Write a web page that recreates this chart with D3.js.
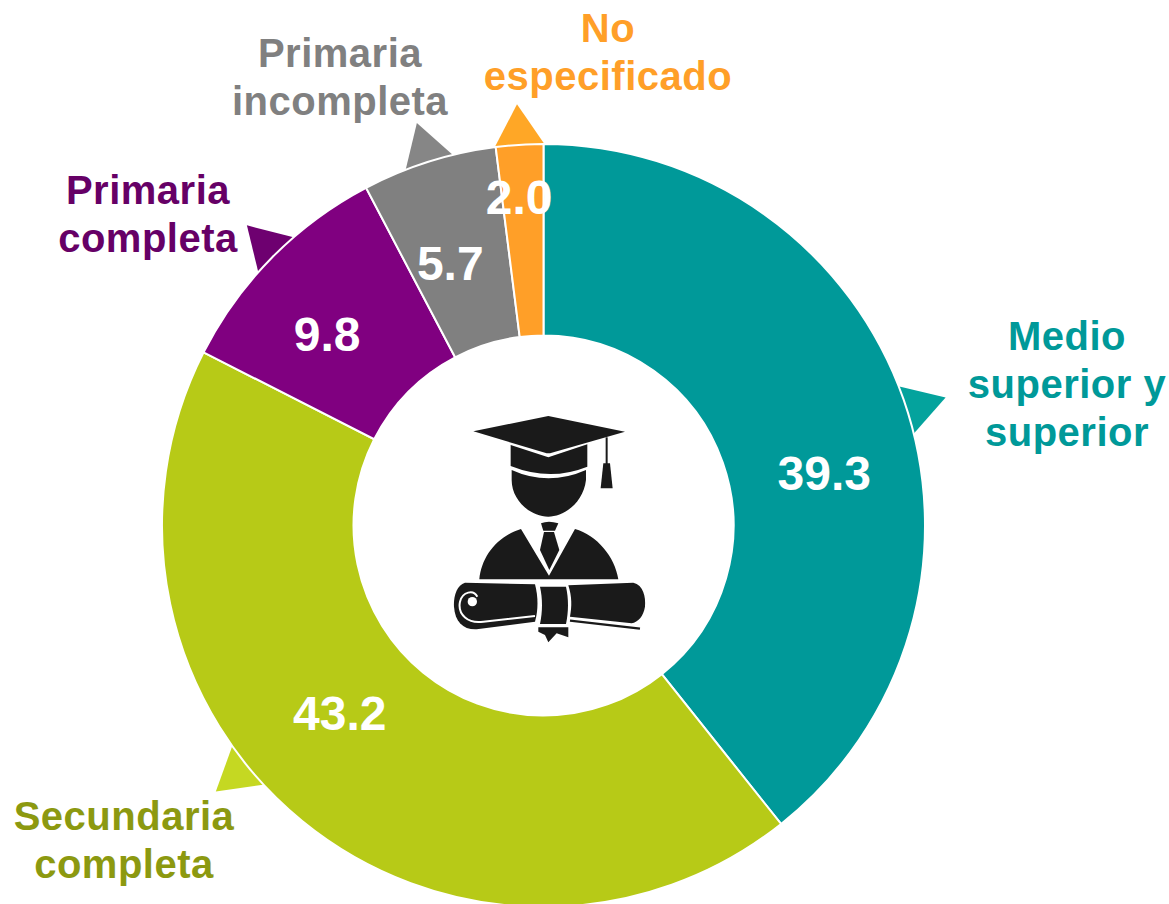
<!DOCTYPE html>
<html>
<head>
<meta charset="utf-8">
<script src="https://cdn.jsdelivr.net/npm/d3@7"></script>
<style>
html, body { margin: 0; background: #fff; }
text { font-family: "Liberation Sans", Arial, sans-serif; font-weight: bold; }
</style>
</head>
<body>
<div id="chart"></div>
<script>
const categories = ["Medio superior y superior", "Secundaria completa", "Primaria completa", "Primaria incompleta", "No especificado"];
const values = [39.3, 43.2, 9.8, 5.7, 2.0];
const valueLabels = ["39.3", "43.2", "9.8", "5.7", "2.0"];
const labelLines = [["Medio", "superior y", "superior"], ["Secundaria", "completa"], ["Primaria", "completa"], ["Primaria", "incompleta"], ["No", "especificado"]];

const sliceColors = ["#009999", "#b7ca17", "#800080", "#808080", "#ff9f28"];
const arrowColors = ["#04a39d", "#c5d822", "#6e0070", "#868686", "#ffa726"];
const textColors = ["#009999", "#8c9910", "#660066", "#808080", "#ff9f28"];

const width = 1169, height = 904;
const cx = 543.5, cy = 525.5;
const outerR = 381.5, innerR = 190;

const svg = d3.select("#chart").append("svg")
    .attr("width", width)
    .attr("height", height)
    .style("display", "block");

const g = svg.append("g").attr("transform", `translate(${cx},${cy})`);

const pie = d3.pie().sort(null).value(d => d);
const arcs = pie(values);
const arc = d3.arc().innerRadius(innerR).outerRadius(outerR);

// Pointers sit behind the ring, mostly on the middle of the slice
const pointerShift = [1.6, 11.7, 0.7, 0, 0]; // degrees
const tipR = 422, baseR = 372, baseHalf = 30;

function pointerPath(d, i) {
    const a = (d.startAngle + d.endAngle) / 2 + pointerShift[i] * Math.PI / 180;
    const ux = Math.sin(a), uy = -Math.cos(a);
    const bx = ux * baseR, by = uy * baseR;
    return d3.line()([
        [ux * tipR, uy * tipR],
        [bx - uy * baseHalf, by + ux * baseHalf],
        [bx + uy * baseHalf, by - ux * baseHalf]
    ]) + "Z";
}

g.append("g")
    .selectAll("path")
    .data(arcs)
    .enter()
    .append("path")
    .attr("d", pointerPath)
    .attr("fill", (d, i) => arrowColors[i]);

// Ring
g.append("g")
    .selectAll("path")
    .data(arcs)
    .enter()
    .append("path")
    .attr("d", arc)
    .attr("fill", (d, i) => sliceColors[i])
    .attr("stroke", "#fff")
    .attr("stroke-width", 2);

// Value labels, nudged from the slice centre
const valueNudge = [[11, 41], [-23, -34], [-13, 9], [-7.5, 10], [-6.5, -44]];

g.append("g")
    .selectAll("text")
    .data(arcs)
    .enter()
    .append("text")
    .attr("x", (d, i) => arc.centroid(d)[0] + valueNudge[i][0])
    .attr("y", (d, i) => arc.centroid(d)[1] + valueNudge[i][1])
    .attr("dy", "0.36em")
    .attr("text-anchor", "middle")
    .attr("font-size", 48)
    .attr("fill", "#fff")
    .text((d, i) => valueLabels[i]);

// Category labels, placed by hand around the ring
const labelX = [1067, 124, 148, 340, 608];
const labelTop = [350, 830, 204, 67, 42];
const lineGap = 48;

const labels = svg.append("g")
    .selectAll("text")
    .data(categories)
    .enter()
    .append("text")
    .attr("text-anchor", "middle")
    .attr("font-size", 40)
    .attr("letter-spacing", 0.5)
    .attr("fill", (d, i) => textColors[i]);

labels.each(function (d, i) {
    d3.select(this)
        .selectAll("tspan")
        .data(labelLines[i])
        .enter()
        .append("tspan")
        .attr("x", labelX[i])
        .attr("y", (t, j) => labelTop[i] + j * lineGap)
        .text(t => t);
});

// Graduate icon in the hole
const icon = svg.append("g")
    .attr("transform", `translate(${cx - 103.5},${cy - 125.5}) scale(0.3333)`);

const iconShapes = [
    "M100,94 L325,48 L555,95 L330,160 L320,160 Z", // board
    "M212,135 L325,172 L442,133 L442,200 Q330,245 212,198 Z", // cap band
    "M215,210 Q325,260 438,210 L438,240 C430,310 370,350 325,350 C270,350 215,300 215,240 Z", // face
    "M490,190 L510,190 L518,265 L482,265 Z", // tassel
    "M303,370 Q325,360 355,370 L345,392 L310,392 Z", // knot
    "M312,396 L342,396 L358,450 L328,510 L300,450 Z", // tie
    "M118,538 C125,470 170,410 243,387 L327,527 L405,387 C470,405 525,470 535,538 Z", // shoulders
    "M75,548 L285,553 C295,590 295,630 285,665 L110,688 C70,690 45,665 42,620 C40,590 50,555 75,548 Z", // scroll left
    "M385,556 L580,548 C610,555 618,590 615,620 C610,650 595,665 575,670 L390,650 C396,620 396,590 385,556 Z", // scroll right
    "M300,560 L378,560 C386,595 386,635 378,672 L300,672 C308,635 308,595 300,560 Z", // band
    "M295,682 L385,682 L385,712 L350,700 L325,727 L315,705 L295,695 Z" // ribbon
];

icon.selectAll("path.shape")
    .data(iconShapes)
    .enter()
    .append("path")
    .attr("class", "shape")
    .attr("d", d => d)
    .attr("fill", "#1a1a1a");

icon.append("path")
    .attr("d", "M500,112 L500,195")
    .attr("stroke", "#1a1a1a")
    .attr("stroke-width", 6);

icon.append("path")
    .attr("d", "M390,662 L600,686")
    .attr("stroke", "#1a1a1a")
    .attr("stroke-width", 7)
    .attr("fill", "none");

icon.append("path")
    .attr("d", "M112,590 C100,568 68,575 60,605 C52,645 85,672 130,665 L285,648")
    .attr("stroke", "#fff")
    .attr("stroke-width", 6)
    .attr("fill", "none");

icon.append("circle")
    .attr("cx", 97)
    .attr("cy", 605)
    .attr("r", 14)
    .attr("fill", "#fff");
</script>
</body>
</html>
